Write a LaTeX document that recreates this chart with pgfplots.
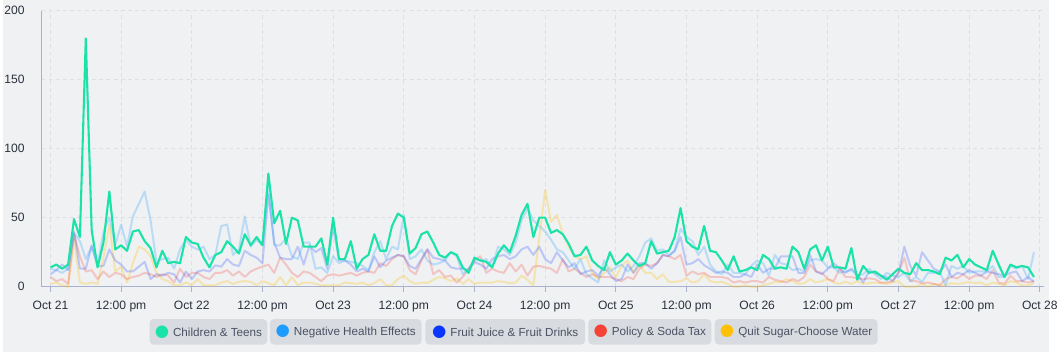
\documentclass[border=0pt]{standalone}
\usepackage{fontspec}
\setmainfont{Liberation Sans}
\newfontfamily\symf{DejaVu Sans}
\usepackage{pgfplots}
\usepackage{pgfplotstable}
\pgfplotsset{compat=1.18}
\definecolor{bgc}{HTML}{EFF1F3}
\definecolor{cG}{HTML}{1BE3A8}
\definecolor{cB}{HTML}{1E9BFF}
\definecolor{cP}{HTML}{0A36FF}
\definecolor{cR}{HTML}{F44336}
\definecolor{cY}{HTML}{FFC107}
\definecolor{gridc}{HTML}{DCDFE4}
\definecolor{axisc}{HTML}{A8B2CF}
\definecolor{tickc}{HTML}{2A303C}
\definecolor{legbg}{HTML}{D8DCE0}
\definecolor{legtxt}{HTML}{4A5164}

\pgfplotstableread{
h G B P S Y
0 14 13 9 7 2
1 16 12 12 4 3
2 13 10 16 5.5 1
3 16 13 12 2 0
4 49 39 40 38 34
5 36 33 13 22 3
6 180 20 13 11 2
7 41 29 30 12 3
8 14 15 15 5.5 2
9 32 40 15 11 21
10 69 50 27 7 45
11 27 30 19 10 11
12 30 45 16 9 14.5
13 26 29 11 5.5 3
14 40 51 11 7 17
15 41 60 14.5 8 29
16 33 69 18 10 27
17 28 48 5.5 9 22
18 14 18 9 7 10
19 26 20 8 9 5.5
20 17 21 10 8 4
21 18 13 9 3 1
22 17 27 3 13 1
23 36 34 11 7 3
24 32 29 5.5 10 1
25 31 27 11 10 5.5
26 21 29 12 7 1
27 14 20 11 5.5 1
28 23 23 15.5 10 1
29 25 44 14.5 10 3
30 33 45 20 12 4
31 29 23 16 8 2
32 24 27 15 11 3.5
33 38 51 26 7 4
34 30 29 23 11 3.5
35 36 34 21 13 1
36 30 30 17 14.5 4
37 82 72 67 16 2.5
38 46 30 32 10 1
39 55 30 21 21 7
40 31 35 20 16 1
41 50 22 20 10 7
42 48 20 29 7 1
43 29 32 16 11 3
44 29 32 30 10 3
45 29 13 25 7 2
46 35 14 28 4 1
47 16 10 13 8 1
48 50 22 44 9 1
49 20 17 19 8 1
50 20 19 19 9 3
51 33 18 16 10 2.5
52 13 17 11 8 2
53 20 15 13 10 3
54 23 12 11 11 1
55 38 25 22 10 2.5
56 26 33 14 17 5.5
57 26 20 19 15 1
58 44 29 21 20 1
59 53 27 23 23 5.5
60 50 52 22 22 8
61 24 20 15 12 4
62 28 22 13 9 2
63 38 27 20 19 3
64 40 19 27 27 2.5
65 32 16 21 9 5
66 23 17 20 12 7
67 21 19 19 7 6
68 25 25 14 8 4
69 23 22 13 3 6
70 14 9 13 7 2
71 10 13 12 13 5.5
72 21 20 18 19 2
73 19 19 16 22 3
74 18 20 13 10 3
75 14 14 20 13 3
76 24 29 22 11 4
77 30 27 23 10 3.5
78 25 23 20 17 2.5
79 37 32 22 11 3
80 52 48 27 16 8
81 60 57 29 8 5
82 36 48 23 14.5 1
83 50 44 29 15 35
84 50 40 20 14 70
85 39 34 17 13 47
86 41 27 25 10 52
87 38 25 19 20 38
88 31 19 14 11 29
89 22 13 17 13 22
90 23 20 9 10 20
91 29 9 11 7 22
92 19 6 12 9 10
93 15 3 8 7 5.5
94 12 19 14 7 10
95 25 11 9 7 14
96 16 14 4 5.5 7
97 19 16 5.5 4 15
98 24 11 16 7 19
99 19 15 10 5.5 10
100 15 22 17 13 16
101 17 32 17 16 10
102 33 35 13 15 10
103 24 26 17 17 5.5
104 25 27 23 23 9
105 26 23 22 22 3.5
106 36 26 26 20 3.5
107 57 42 36 23 4
108 33 36 16 8 6
109 29 33 17 11 3
110 27 23 20 9 4
111 44 29 15.5 10 9
112 26 16 13 7 4
113 25 11 10 7 3
114 19 9 11 7 3.5
115 12 16 10 6 2
116 22 10 7 3 0
117 11 10 7 4 0
118 12 9 9 3 1
119 14 15 7 4 0
120 12 19 16 4 0
121 23 17 10 3 1
122 20 8 13 7 2
123 13 23 13 5 3.5
124 14 17 22 4 3
125 13 16 22 3 5.5
126 29 12 22 5.5 4
127 25 13 10 4 2
128 13 11 10 7 2.5
129 27 19 23 16 5.5
130 30 20 11 11 3
131 19 19 9 10 4
132 29 14 13 5.5 5.5
133 14 14 17 4 3
134 14 10 13 13 2
135 13 11 10 7 3.5
136 28 12 13 7 2
137 5 8 9 6 4
138 15 9 3 5.5 2
139 10 13 11 6 2.5
140 11 9 10 5.5 3
141 8 5.5 8 3 2.5
142 5 10 7 3 2
143 9 8 4 4 3
144 13 7 10 10 4
145 10 10 29 21 0
146 9 4 15 4 0
147 17 7 8 4 0
148 12 3.5 25 2.5 2
149 12 10 19 3 0
150 11 10 13 2 2
151 9 11 11 1 1
152 21 1 16 5.5 1
153 19 15 7 7 2.5
154 23 13 10 6 2
155 14 15 9 9 2.5
156 20 10 12 5.5 3.5
157 16 11 10 8 2.5
158 14 11 8 8 3
159 12 11 11 5.5 1
160 26 15 10 12 3
161 16 7 9 3 2
162 7 7 8 2 1
163 16 15 10 8 4
164 14 13 11 4 3
165 15 15 4 4 1
166 14 5.5 7 3 1
167 7 25 3.5 4 2.5
}\datatable

\newcommand{\legdot}[1]{{\color{#1}\symf\fontsize{12.5}{12.5}\selectfont ●}\hspace{3pt}}

\begin{document}
\begin{tikzpicture}
\fill[bgc] (-29.25pt,-49.5pt) rectangle (767.25pt,218.25pt);
\begin{axis}[
  at={(0pt,0pt)}, anchor=south west,
  scale only axis,
  width=763.5pt, height=210pt,
  xmin=-1.55, xmax=168.73,
  ymin=0, ymax=200,
  axis x line*=bottom, axis y line*=left,
  axis line style={-, axisc, line width=0.75pt},
  xtick={0,12,...,168},
  xticklabels={Oct 21,12:00 pm,Oct 22,12:00 pm,Oct 23,12:00 pm,Oct 24,12:00 pm,Oct 25,12:00 pm,Oct 26,12:00 pm,Oct 27,12:00 pm,Oct 28},
  ytick={0,50,100,150,200},
  grid=major,
  major grid style={gridc, line width=0.6pt, dash pattern=on 3pt off 2.5pt},
  tick align=outside,
  major tick length=3.75pt,
  xtick style={axisc, line width=0.75pt},
  ytick style={draw=none},
  tick label style={font=\fontsize{9.2}{10}\selectfont, text=tickc},
  /pgf/number format/assume math mode=true,
  yticklabel style={xshift=-5.5pt},
  xticklabel style={yshift=-3.5pt},
  clip=false,
  line join=round,
]
\addplot[cY, opacity=0.28, line width=1.5pt, no markers] table[x=h, y=Y] {\datatable};
\addplot[cR, opacity=0.25, line width=1.5pt, no markers] table[x=h, y=S] {\datatable};
\addplot[cP, opacity=0.22, line width=1.5pt, no markers] table[x=h, y=P] {\datatable};
\addplot[cB, opacity=0.25, line width=1.5pt, no markers] table[x=h, y=B] {\datatable};
\addplot[cG, line width=1.6pt, no markers] table[x=h, y=G] {\datatable};
\end{axis}
\tikzset{legbox/.style={fill=legbg, rounded corners=3pt, text=legtxt, minimum height=19.3pt, inner xsep=4pt, inner ysep=0pt, font=\fontsize{8.9}{10}\selectfont, anchor=center}}
\node[legbox, minimum width=88.35pt] at (127.2pt,-34.4pt) {\legdot{cG}Children \& Teens};
\node[legbox, minimum width=115.5pt] at (231.75pt,-34.4pt) {\legdot{cB}Negative Health Effects};
\node[legbox, minimum width=121.5pt] at (353.2pt,-34.4pt) {\legdot{cP}Fruit Juice \& Fruit Drinks};
\node[legbox, minimum width=93.75pt] at (463.3pt,-34.4pt) {\legdot{cR}Policy \& Soda Tax};
\node[legbox, minimum width=124pt] at (574.7pt,-34.4pt) {\legdot{cY}Quit Sugar-Choose Water};
\end{tikzpicture}
\end{document}
